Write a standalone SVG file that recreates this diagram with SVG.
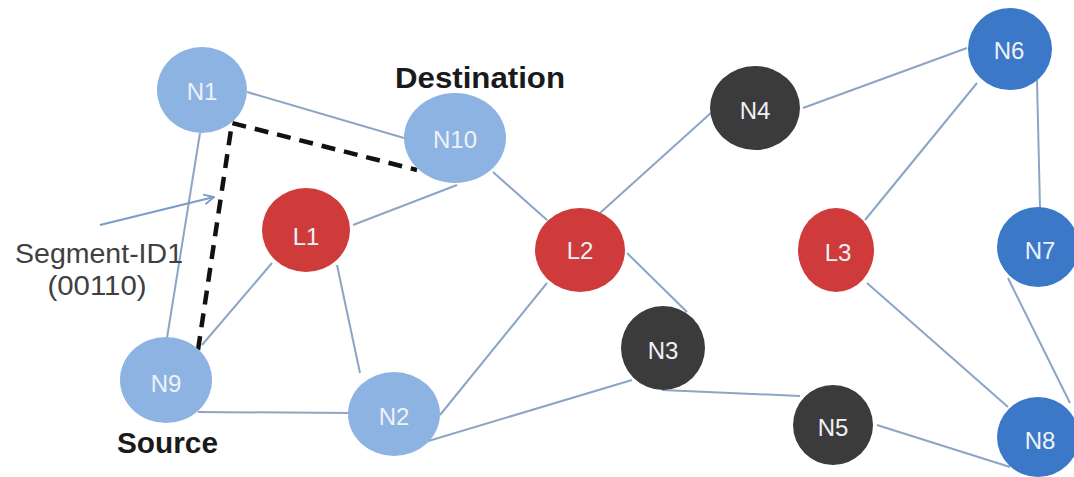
<svg xmlns="http://www.w3.org/2000/svg" width="1074" height="477" viewBox="0 0 1074 477">
<defs>
<style>
.e{stroke:#8ca5c5;stroke-width:2;fill:none}
.lb{fill:#3c78c8}
.ll{fill:#8db3e2}
.rd{fill:#cf3a3a}
.dk{fill:#3b3b3b}
.t{font-family:"Liberation Sans",Arial,sans-serif;font-size:24px;fill:#eef2f8;text-anchor:middle;dominant-baseline:central}
.cap{font-family:"Liberation Sans",Arial,sans-serif;font-weight:bold;font-size:30px;fill:#1a1a1a}
.seg{font-family:"Liberation Sans",Arial,sans-serif;font-size:27px;fill:#404040;text-anchor:middle}
</style>
<marker id="ah" viewBox="0 0 12 12" refX="11" refY="6" markerWidth="12" markerHeight="12" markerUnits="userSpaceOnUse" orient="auto">
<path d="M1,1 L11,6 L1,11" fill="none" stroke="#7b9cc8" stroke-width="1.8"/>
</marker>
</defs>
<rect width="1074" height="477" fill="#ffffff"/>
<g id="connectors">
<line class="e" x1="247" y1="92" x2="404" y2="138"/>
<line class="e" x1="200" y1="133" x2="167" y2="338"/>
<line class="e" x1="353" y1="225" x2="457" y2="185"/>
<line class="e" x1="493" y1="172" x2="547" y2="220"/>
<line class="e" x1="272" y1="263" x2="202" y2="345"/>
<line class="e" x1="337" y1="265" x2="360" y2="373"/>
<line class="e" x1="198" y1="412" x2="352" y2="413"/>
<line class="e" x1="440" y1="415" x2="547" y2="283"/>
<line class="e" x1="425" y1="442" x2="632" y2="380"/>
<line class="e" x1="600" y1="213" x2="712" y2="112"/>
<line class="e" x1="627" y1="253" x2="687" y2="312"/>
<line class="e" x1="803" y1="108" x2="967" y2="48"/>
<line class="e" x1="977" y1="83" x2="865" y2="220"/>
<line class="e" x1="1037" y1="80" x2="1040" y2="208"/>
<line class="e" x1="662" y1="390" x2="800" y2="396"/>
<line class="e" x1="877" y1="425" x2="1010" y2="467"/>
<line class="e" x1="867" y1="283" x2="1008" y2="407"/>
<line class="e" x1="1008" y1="278" x2="1070" y2="403"/>
<line x1="100" y1="225" x2="214" y2="197" stroke="#7b9cc8" stroke-width="2" marker-end="url(#ah)"/>
<path d="M198,350 L232,123 L417,170" fill="none" stroke="#111" stroke-width="4.5" stroke-dasharray="14 9"/>
</g>
<g id="N1"><ellipse class="ll" cx="202" cy="90" rx="45" ry="43"/><text class="t" x="202" y="91">N1</text></g>
<g id="N10"><ellipse class="ll" cx="455" cy="138" rx="51" ry="45"/><text class="t" x="455" y="139">N10</text></g>
<g id="L1"><ellipse class="rd" cx="306" cy="230" rx="44" ry="42"/><text class="t" x="306" y="236">L1</text></g>
<g id="N9"><ellipse class="ll" cx="166" cy="380" rx="46" ry="43"/><text class="t" x="166" y="383">N9</text></g>
<g id="N2"><ellipse class="ll" cx="394" cy="414" rx="46" ry="42"/><text class="t" x="394" y="416">N2</text></g>
<g id="L2"><ellipse class="rd" cx="580" cy="250" rx="45" ry="42"/><text class="t" x="580" y="250">L2</text></g>
<g id="N4"><ellipse class="dk" cx="755" cy="108" rx="45" ry="42"/><text class="t" x="755" y="110">N4</text></g>
<g id="N3"><ellipse class="dk" cx="663" cy="348" rx="42" ry="42"/><text class="t" x="663" y="350">N3</text></g>
<g id="N5"><ellipse class="dk" cx="833" cy="425" rx="40" ry="40"/><text class="t" x="833" y="427">N5</text></g>
<g id="L3"><ellipse class="rd" cx="836" cy="250" rx="38" ry="42"/><text class="t" x="838" y="252">L3</text></g>
<g id="N6"><ellipse class="lb" cx="1010" cy="49" rx="42" ry="41"/><text class="t" x="1009" y="50">N6</text></g>
<g id="N7"><ellipse class="lb" cx="1038" cy="247" rx="41" ry="40"/><text class="t" x="1040" y="250">N7</text></g>
<g id="N8"><ellipse class="lb" cx="1038" cy="437" rx="41" ry="40"/><text class="t" x="1040" y="440">N8</text></g>
<g id="labels">
<text class="cap" x="395" y="88" textLength="170" lengthAdjust="spacingAndGlyphs">Destination</text>
<text class="cap" x="117" y="453" textLength="101" lengthAdjust="spacingAndGlyphs">Source</text>
<text class="seg" x="99" y="263" textLength="168" lengthAdjust="spacingAndGlyphs">Segment-ID1</text>
<text class="seg" x="97" y="295" textLength="99" lengthAdjust="spacingAndGlyphs">(00110)</text>
</g>
</svg>
